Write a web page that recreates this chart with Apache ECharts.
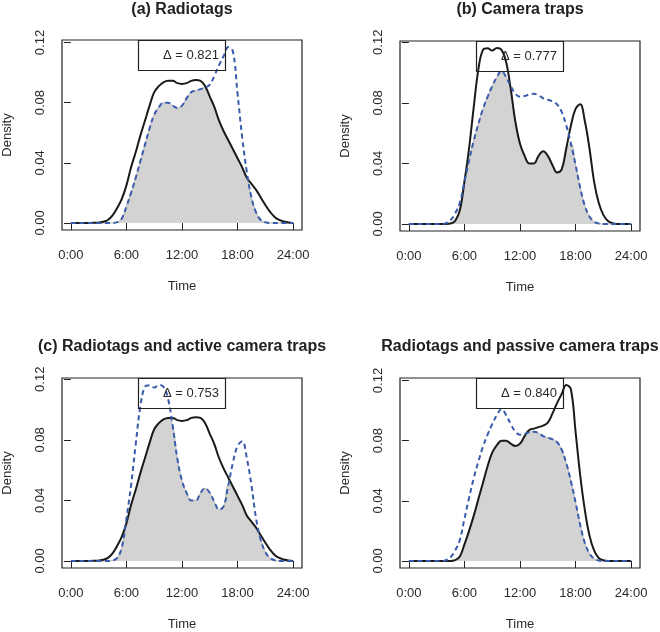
<!DOCTYPE html>
<html><head><meta charset="utf-8">
<script src="https://cdn.jsdelivr.net/npm/echarts@6/dist/echarts.min.js"></script>
<style>html,body{margin:0;padding:0;background:#fff}#c{width:660px;height:632px}</style>
</head><body><div id="c"></div>
<script>
// time of day (hours), sampled every half hour
const hours = [0,0.5,1,1.5,2,2.5,3,3.5,4,4.5,5,5.5,6,6.5,7,7.5,8,8.5,9,9.5,10,10.5,11,11.5,12,12.5,13,13.5,14,14.5,15,15.5,16,16.5,17,17.5,18,18.5,19,19.5,20,20.5,21,21.5,22,22.5,23,23.5,24];
// radiotag activity, first curve (solid in (a), (c))
const radioA = [0,0,0,0,0,0.0001,0.0003,0.0008,0.002,0.005,
  0.010,0.016,0.025,0.037,0.047,0.058,0.068,0.078,0.087,0.091,
  0.0935,0.0945,0.0945,0.093,0.0925,0.093,0.0945,0.095,0.0945,0.091,
  0.084,0.077,0.068,0.061,0.055,0.049,0.043,0.037,0.030,0.026,
  0.022,0.017,0.012,0.0075,0.004,0.002,0.001,0.0003,0];
// radiotag activity, second curve (dashed in (a), solid in (d))
const radioB = [0,0,0,0,0,0,0,0,0,0,
  0.0005,0.003,0.011,0.020,0.030,0.041,0.052,0.063,0.072,0.077,
  0.080,0.080,0.078,0.0765,0.078,0.083,0.087,0.088,0.089,0.090,
  0.092,0.098,0.105,0.111,0.117,0.114,0.086,0.057,0.034,0.017,
  0.007,0.002,0.0005,0,0,0,0,0,0];
// active camera traps (solid in (b), dashed in (c))
const camActive = [0,0,0,0,0,0,0,0,0,0.0003,
  0.002,0.009,0.028,0.050,0.077,0.102,0.115,0.116,0.1145,0.1162,
  0.115,0.107,0.089,0.0675,0.053,0.045,0.040,0.040,0.045,0.048,
  0.045,0.039,0.034,0.036,0.050,0.065,0.076,0.079,0.068,0.050,
  0.028,0.014,0.006,0.002,0.0005,0,0,0,0];
// passive camera traps (dashed in (b), (d))
const camPassive = [0,0,0,0,0,0,0,0,0.0005,0.0025,
  0.007,0.014,0.028,0.042,0.055,0.066,0.076,0.084,0.091,0.097,
  0.101,0.097,0.091,0.086,0.084,0.0845,0.0855,0.086,0.085,0.083,
  0.082,0.081,0.079,0.074,0.065,0.053,0.039,0.024,0.012,0.005,
  0.0015,0.0003,0,0,0,0,0,0,0];

const xTicks = [0,6,12,18,24];
const yTicks = [0,0.04,0.08,0.12];
const panelTitles = ['(a) Radiotags','(b) Camera traps','(c) Radiotags and active camera traps','Radiotags and passive camera traps'];
const deltaLabels = ['0.821','0.777','0.753','0.840'];
const panelPairs = [[radioA, radioB],[camActive, camPassive],[radioA, camActive],[radioB, camPassive]];

const FONT = '"Liberation Sans", Arial, Helvetica, sans-serif';
const boxes = [{left:62,top:40},{left:400,top:41},{left:62,top:378},{left:400,top:378}];
const W = 240, H = 190;

const grid = [], xAxis = [], yAxis = [], series = [], title = [];
panelPairs.forEach((pair, p) => {
  const b = boxes[p];
  const m = Math.max(Math.max(...pair[0]), Math.max(...pair[1]));
  grid.push({left:b.left, top:b.top, width:W, height:H, show:true, borderColor:'#222', borderWidth:1.2, backgroundColor:'transparent'});
  xAxis.push({type:'value', gridIndex:p, min:-0.96, max:24.96,
    name:'Time', nameLocation:'middle', nameGap:50,
    nameTextStyle:{fontFamily:FONT, fontSize:13, color:'#2a2a2a'},
    axisLine:{show:false}, splitLine:{show:false},
    axisTick:{show:true, length:7, customValues:xTicks, lineStyle:{color:'#222', width:1}},
    axisLabel:{customValues:xTicks, margin:19, fontFamily:FONT, fontSize:13, color:'#2a2a2a', formatter:v => v + ':00'}});
  yAxis.push({type:'value', gridIndex:p, min:-0.04*m, max:1.04*m,
    name:'Density', nameLocation:'middle', nameGap:48,
    nameTextStyle:{fontFamily:FONT, fontSize:13, color:'#2a2a2a'},
    axisLine:{show:false}, splitLine:{show:false},
    axisTick:{show:true, length:7, customValues:yTicks, lineStyle:{color:'#222', width:1}},
    axisLabel:{customValues:yTicks, rotate:90, margin:15, fontFamily:FONT, fontSize:13, color:'#2a2a2a', formatter:v => v.toFixed(2)}});
  const overlap = hours.map((h,i) => [h, Math.min(pair[0][i], pair[1][i])]);
  series.push({type:'line', xAxisIndex:p, yAxisIndex:p, data:overlap, smooth:0.4, symbol:'none', z:1,
    lineStyle:{color:'#b5b5b5', width:1}, areaStyle:{color:'#d3d3d3', opacity:1}});
  series.push({type:'line', xAxisIndex:p, yAxisIndex:p, data:hours.map((h,i)=>[h,pair[0][i]]), smooth:0.4, symbol:'none', z:3,
    lineStyle:{color:'#1a1a1a', width:2}});
  series.push({type:'line', xAxisIndex:p, yAxisIndex:p, data:hours.map((h,i)=>[h,pair[1][i]]), smooth:0.4, symbol:'none', z:4,
    lineStyle:{color:'#3a5aac', width:2, type:[5,3.5]}});
  title.push({text:panelTitles[p], left:b.left + W/2, textAlign:'center', top:(p<2?1:338), padding:0,
    textStyle:{fontFamily:FONT, fontSize:16, fontWeight:'bold', color:'#222', lineHeight:18}});
  title.push({text:'\u0394 = ' + deltaLabels[p], left:b.left + W/2 - 44, top:b.top, padding:[8,7,8,25],
    borderColor:'#222', borderWidth:1.2,
    textStyle:{fontFamily:FONT, fontSize:13, fontWeight:'normal', color:'#2a2a2a', lineHeight:15}});
});

const chart = echarts.init(document.getElementById('c'), null, {renderer:'canvas'});
chart.setOption({animation:false, backgroundColor:'#fff', title, grid, xAxis, yAxis, series});
</script></body></html>
